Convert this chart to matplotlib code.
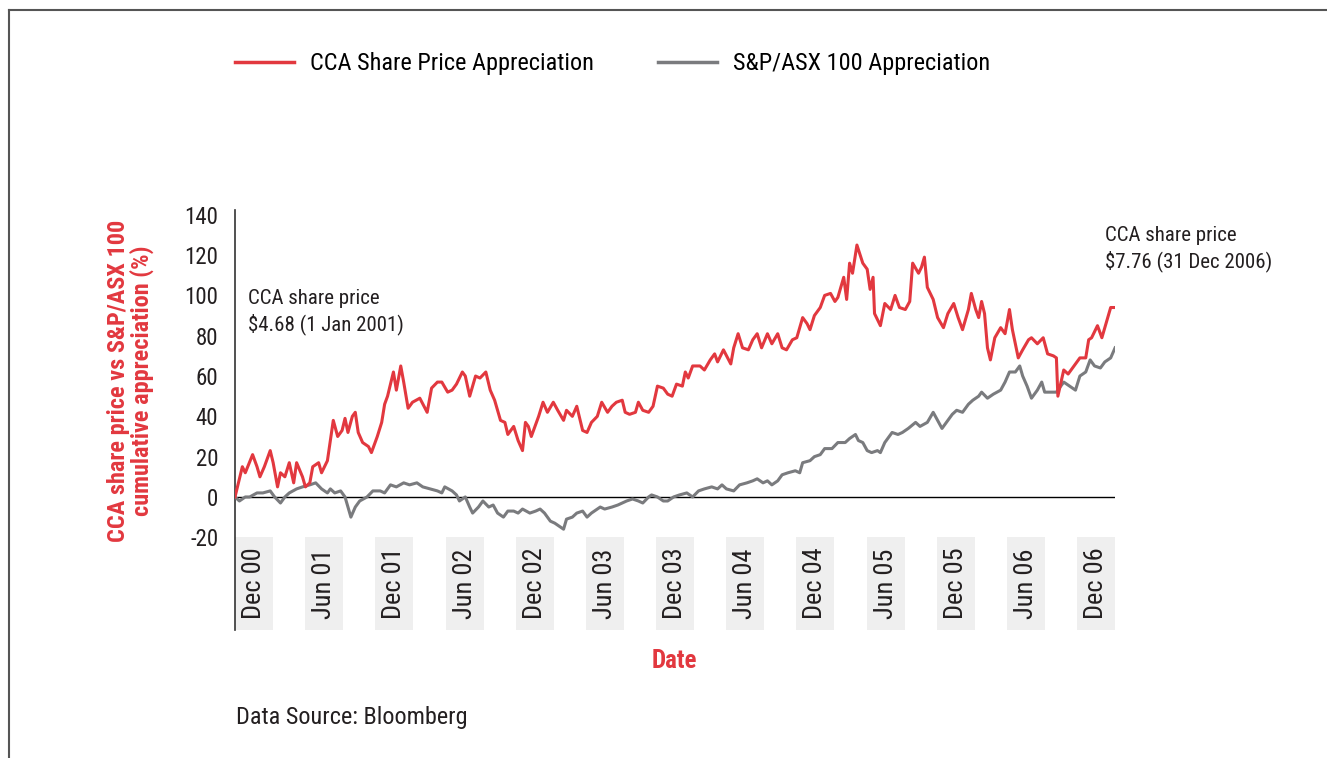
import matplotlib
matplotlib.use("Agg")
import matplotlib.pyplot as plt
from matplotlib.patches import Rectangle
from matplotlib.lines import Line2D
import matplotlib.transforms as mtransforms

plt.rcParams['font.family'] = ['Roboto Condensed', 'Archivo Narrow', 'DejaVu Sans']

RED = '#e2383f'
GREY = '#7a7b7e'
TXT = '#231f20'

# CCA share price appreciation (%) (decimal years)
cca_t = [2001.00, 2001.05, 2001.07, 2001.12, 2001.15, 2001.17, 2001.20, 2001.24, 2001.26, 2001.29,
         2001.31, 2001.34, 2001.37, 2001.40, 2001.42, 2001.46, 2001.48, 2001.51, 2001.53, 2001.57,
         2001.59, 2001.63, 2001.65, 2001.67, 2001.70, 2001.73, 2001.75, 2001.77, 2001.80, 2001.82,
         2001.84, 2001.87, 2001.91, 2001.93, 2001.97, 2002.00, 2002.02, 2002.04, 2002.08, 2002.10,
         2002.13, 2002.15, 2002.18, 2002.21, 2002.26, 2002.31, 2002.34, 2002.38, 2002.41, 2002.45,
         2002.48, 2002.51, 2002.55, 2002.57, 2002.60, 2002.64, 2002.67, 2002.71, 2002.74, 2002.77,
         2002.81, 2002.84, 2002.86, 2002.90, 2002.93, 2002.96, 2002.98, 2003.00, 2003.02, 2003.07,
         2003.10, 2003.13, 2003.17, 2003.20, 2003.24, 2003.26, 2003.30, 2003.33, 2003.37, 2003.40,
         2003.43, 2003.47, 2003.50, 2003.54, 2003.57, 2003.60, 2003.64, 2003.66, 2003.69, 2003.73,
         2003.75, 2003.78, 2003.82, 2003.85, 2003.88, 2003.92, 2003.95, 2003.98, 2004.01, 2004.05,
         2004.07, 2004.09, 2004.12, 2004.17, 2004.20, 2004.24, 2004.27, 2004.29, 2004.33, 2004.38,
         2004.40, 2004.43, 2004.46, 2004.50, 2004.53, 2004.56, 2004.59, 2004.63, 2004.66, 2004.70,
         2004.73, 2004.76, 2004.80, 2004.83, 2004.87, 2004.90, 2004.92, 2004.95, 2004.99, 2005.02,
         2005.06, 2005.09, 2005.11, 2005.15, 2005.17, 2005.19, 2005.21, 2005.24, 2005.28, 2005.31,
         2005.33, 2005.35, 2005.36, 2005.40, 2005.43, 2005.47, 2005.50, 2005.53, 2005.57, 2005.60,
         2005.62, 2005.66, 2005.68, 2005.70, 2005.72, 2005.76, 2005.79, 2005.83, 2005.86, 2005.90,
         2005.93, 2005.96, 2006.00, 2006.02, 2006.05, 2006.07, 2006.09, 2006.11, 2006.13, 2006.15,
         2006.18, 2006.22, 2006.25, 2006.28, 2006.30, 2006.34, 2006.37, 2006.41, 2006.43, 2006.47,
         2006.51, 2006.54, 2006.58, 2006.60, 2006.61, 2006.65, 2006.68, 2006.73, 2006.76, 2006.80,
         2006.82, 2006.84, 2006.88, 2006.91, 2006.95, 2006.97, 2007.00]
cca_v = [0, 15, 12, 21, 15, 10, 15, 23, 17, 5,
         12, 10, 17, 7, 17, 10, 5, 7, 15, 17,
         12, 18, 28, 38, 30, 33, 39, 32, 40, 42,
         32, 27, 25, 22, 30, 37, 46, 50, 62, 53,
         65, 57, 44, 47, 49, 42, 54, 57, 57, 52,
         53, 56, 62, 60, 50, 60, 59, 62, 53, 48,
         38, 37, 31, 35, 28, 23, 37, 35, 30, 40,
         47, 42, 47, 43, 38, 43, 40, 45, 33, 32,
         37, 40, 47, 42, 45, 47, 48, 42, 41, 42,
         47, 43, 42, 45, 55, 54, 51, 50, 56, 55,
         62, 59, 65, 65, 63, 68, 71, 67, 73, 66,
         74, 81, 74, 73, 78, 81, 74, 81, 76, 81,
         74, 73, 78, 79, 89, 86, 83, 90, 94, 100,
         101, 97, 99, 109, 98, 116, 111, 125, 116, 113,
         103, 109, 91, 85, 96, 93, 100, 94, 93, 97,
         116, 111, 114, 119, 104, 98, 89, 84, 91, 96,
         89, 83, 93, 101, 93, 89, 97, 91, 74, 68,
         79, 84, 81, 93, 83, 69, 73, 78, 79, 76,
         79, 71, 70, 69, 50, 63, 61, 66, 69, 69,
         78, 79, 85, 79, 89, 94, 94]

# S&P/ASX 100 appreciation (%)
asx_t = [2001.00, 2001.03, 2001.07, 2001.10, 2001.15, 2001.19, 2001.24, 2001.27, 2001.31, 2001.34,
         2001.37, 2001.42, 2001.46, 2001.51, 2001.55, 2001.59, 2001.63, 2001.65, 2001.68, 2001.72,
         2001.75, 2001.77, 2001.79, 2001.82, 2001.85, 2001.90, 2001.94, 2001.99, 2002.02, 2002.06,
         2002.10, 2002.15, 2002.19, 2002.24, 2002.28, 2002.33, 2002.38, 2002.41, 2002.43, 2002.48,
         2002.51, 2002.53, 2002.57, 2002.60, 2002.62, 2002.66, 2002.69, 2002.73, 2002.76, 2002.79,
         2002.83, 2002.86, 2002.90, 2002.93, 2002.96, 2003.01, 2003.05, 2003.08, 2003.11, 2003.15,
         2003.18, 2003.22, 2003.24, 2003.26, 2003.30, 2003.33, 2003.37, 2003.40, 2003.43, 2003.49,
         2003.52, 2003.57, 2003.61, 2003.67, 2003.71, 2003.75, 2003.78, 2003.82, 2003.84, 2003.88,
         2003.92, 2003.95, 2003.99, 2004.03, 2004.08, 2004.12, 2004.16, 2004.20, 2004.25, 2004.29,
         2004.32, 2004.35, 2004.40, 2004.44, 2004.49, 2004.53, 2004.56, 2004.60, 2004.63, 2004.66,
         2004.70, 2004.73, 2004.77, 2004.82, 2004.85, 2004.87, 2004.92, 2004.95, 2004.99, 2005.02,
         2005.07, 2005.11, 2005.16, 2005.19, 2005.23, 2005.25, 2005.28, 2005.31, 2005.34, 2005.38,
         2005.40, 2005.43, 2005.48, 2005.52, 2005.55, 2005.59, 2005.64, 2005.67, 2005.72, 2005.76,
         2005.79, 2005.82, 2005.85, 2005.89, 2005.92, 2005.96, 2006.00, 2006.03, 2006.07, 2006.09,
         2006.13, 2006.17, 2006.22, 2006.25, 2006.28, 2006.32, 2006.35, 2006.37, 2006.40, 2006.43,
         2006.47, 2006.50, 2006.52, 2006.56, 2006.60, 2006.65, 2006.69, 2006.73, 2006.76, 2006.80,
         2006.83, 2006.86, 2006.90, 2006.93, 2006.97, 2007.00]
asx_v = [0, -2, 0, 0, 2, 2, 3, 0, -3, 0,
         2, 4, 5, 6, 7, 4, 2, 4, 2, 3,
         0, -5, -10, -5, -2, 0, 3, 3, 2, 6,
         5, 7, 6, 7, 5, 4, 3, 2, 5, 3,
         1, -2, 0, -5, -8, -5, -2, -5, -4, -8,
         -10, -7, -7, -8, -6, -8, -7, -6, -8, -12,
         -13, -15, -16, -11, -10, -8, -7, -10, -8, -5,
         -6, -5, -4, -2, -1, -2, -3, 0, 1, 0,
         -2, -2, 0, 1, 2, 0, 3, 4, 5, 4,
         6, 4, 3, 6, 7, 8, 9, 7, 8, 6,
         8, 11, 12, 13, 12, 17, 18, 20, 21, 24,
         24, 27, 27, 29, 31, 28, 27, 23, 22, 23,
         22, 27, 32, 31, 32, 34, 37, 35, 37, 42,
         38, 34, 37, 41, 43, 42, 46, 48, 50, 52,
         49, 51, 53, 57, 62, 62, 65, 60, 55, 49,
         53, 57, 52, 52, 52, 57, 55, 53, 60, 62,
         68, 65, 64, 67, 69, 74]

period_labels = ['Dec 00', 'Jun 01', 'Dec 01', 'Jun 02', 'Dec 02', 'Jun 03', 'Dec 03',
                 'Jun 04', 'Dec 04', 'Jun 05', 'Dec 05', 'Jun 06', 'Dec 06']
y_ticks = [-20, 0, 20, 40, 60, 80, 100, 120, 140]

fig = plt.figure(figsize=(13.27, 7.58), dpi=100)
ax = fig.add_axes([0.1771, 0.1689, 0.6632, 0.5541])

ax.plot(asx_t, asx_v, color=GREY, lw=2.2, solid_joinstyle='round', zorder=3)
ax.plot(cca_t, cca_v, color=RED, lw=2.2, solid_joinstyle='round', zorder=4)
ax.axhline(0, color='black', lw=1.0, zorder=2)

ax.set_xlim(2001.0, 2007.0)
ax.set_ylim(-66, 142.4)
ax.set_yticks(y_ticks)
ax.set_yticklabels([str(v) for v in y_ticks], fontsize=16.5, color=TXT)
ax.tick_params(axis='y', length=0, pad=12)
ax.set_xticks([])
for s in ['top', 'right', 'bottom']:
    ax.spines[s].set_visible(False)
ax.spines['left'].set_color('#333333')
ax.spines['left'].set_linewidth(1.2)

# shaded category boxes with rotated period labels
trans = mtransforms.blended_transform_factory(ax.transAxes, ax.transData)
box_w = 0.0432
step = (1 - box_w) / (len(period_labels) - 1)
for i, lab in enumerate(period_labels):
    x0 = i * step
    ax.add_patch(Rectangle((x0, -66), box_w, 46, transform=trans,
                           facecolor='#efefef', edgecolor='none', zorder=0, clip_on=False))
    ax.text(x0 + box_w / 2, -43, lab, transform=trans, rotation=90,
            ha='center', va='center', fontsize=19, color=TXT)

ax.set_ylabel('CCA share price vs S&P/ASX 100\ncumulative appreciation (%)',
              fontsize=17.5, fontweight='bold', color=RED, linespacing=1.0)
ax.yaxis.set_label_coords(-0.092, 0.593)
fig.text(0.508, 0.128, 'Date', fontsize=18, fontweight='bold', color=RED,
         ha='center', va='center')

ax.text(0.015, 0.812, 'CCA share price\n$4.68 (1 Jan 2001)', transform=ax.transAxes,
        fontsize=15, color=TXT, va='top', ha='left', linespacing=1.3)
ax.text(0.989, 0.962, 'CCA share price\n$7.76 (31 Dec 2006)', transform=ax.transAxes,
        fontsize=15, color=TXT, va='top', ha='left', linespacing=1.3, clip_on=False)

handles = [Line2D([], [], color=RED, lw=2.5), Line2D([], [], color=GREY, lw=2.5)]
fig.legend(handles, ['CCA Share Price Appreciation', 'S&P/ASX 100 Appreciation'],
           loc='center left', bbox_to_anchor=(0.1605, 0.916), ncol=2, frameon=False,
           fontsize=17.5, handlelength=2.45, handletextpad=0.66, columnspacing=2.6)

fig.text(0.178, 0.053, 'Data Source: Bloomberg', fontsize=17.5, color=TXT,
         ha='left', va='center')

# outer frame (left and top edges)
fig.add_artist(Line2D([0.0068, 0.0068], [0.0, 0.987], color='#555555', lw=1.5))
fig.add_artist(Line2D([0.0068, 1.0], [0.987, 0.987], color='#555555', lw=1.5))

fig.savefig('out.png', dpi=100)
